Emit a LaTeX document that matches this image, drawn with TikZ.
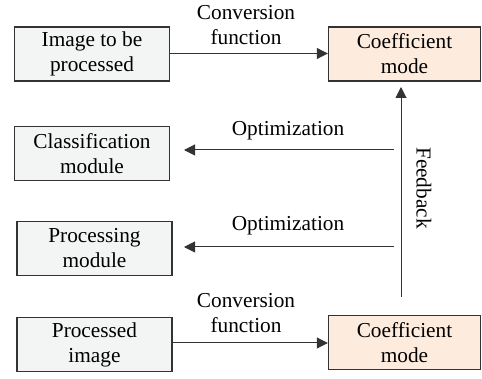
\documentclass[tikz,border=0pt]{standalone}
\usepackage{fontspec}
\setmainfont{Liberation Serif}
\usetikzlibrary{arrows.meta}

\definecolor{boxgray}{HTML}{F2F5F4}
\definecolor{boxpeach}{HTML}{FDEBDD}
\definecolor{edgegray}{HTML}{333333}

\begin{document}
\begin{tikzpicture}[x=1pt,y=-1pt,
    font=\fontsize{21.3}{25}\selectfont,
    block/.style={draw=edgegray,line width=1.4pt,fill=boxgray,align=center,
                  minimum width=155pt,minimum height=54pt,inner sep=0pt},
    coef/.style={block,fill=boxpeach,minimum width=152pt},
    flow/.style={draw=edgegray,line width=1pt,-{Triangle[length=11pt,width=11pt]}},
    lbl/.style={align=center,inner sep=0pt}]
\useasboundingbox (0,0) rectangle (482,379);
            % Blocks
\node[block] (img)  at (92  ,54   ) {Image to be\\processed};
\node[block] (cls)  at (92  ,153.5) {Classification\\module};
\node[block] (proc) at (94.5,248.5) {Processing\\module};
\node[block] (out)  at (94.5,344.5) {Processed\\image};
\node[coef]  (cm1)  at (404.5,54  ) {Coefficient\\mode};
\node[coef]  (cm2)  at (404.5,342.5) {Coefficient\\mode};
%Free ends
\coordinate (fbS) at (401,297);
\coordinate (fbN) at (401,87);
\coordinate (opt1S) at (394,150);
\coordinate (opt1E) at (184,150);
\coordinate (opt2S) at (394,247);
\coordinate (opt2E) at (184,247);
%Conversion
\draw[flow] (img.east |- 0,53.5) -- (cm1.west |- 0,53.5);
\draw[flow] (out.east |- 0,343) -- (cm2.west |- 0,343);
\node[lbl] (conv1) at (246,25)    {Conversion\\function};
\node[lbl] (conv2) at (246,313.5) {Conversion\\function};
%Optimization
\draw[flow] (opt1S) -- (opt1E);
\draw[flow] (opt2S) -- (opt2E);
\node[lbl] (optl1) at (288,131) {Optimization};
\node[lbl] (optl2) at (288,226) {Optimization};
%Feedback
\draw[flow] (fbS) -- (fbN);
\node[lbl,rotate=-90] (fbl) at (424,188) {Feedback};

          \end{tikzpicture}
\end{document}
